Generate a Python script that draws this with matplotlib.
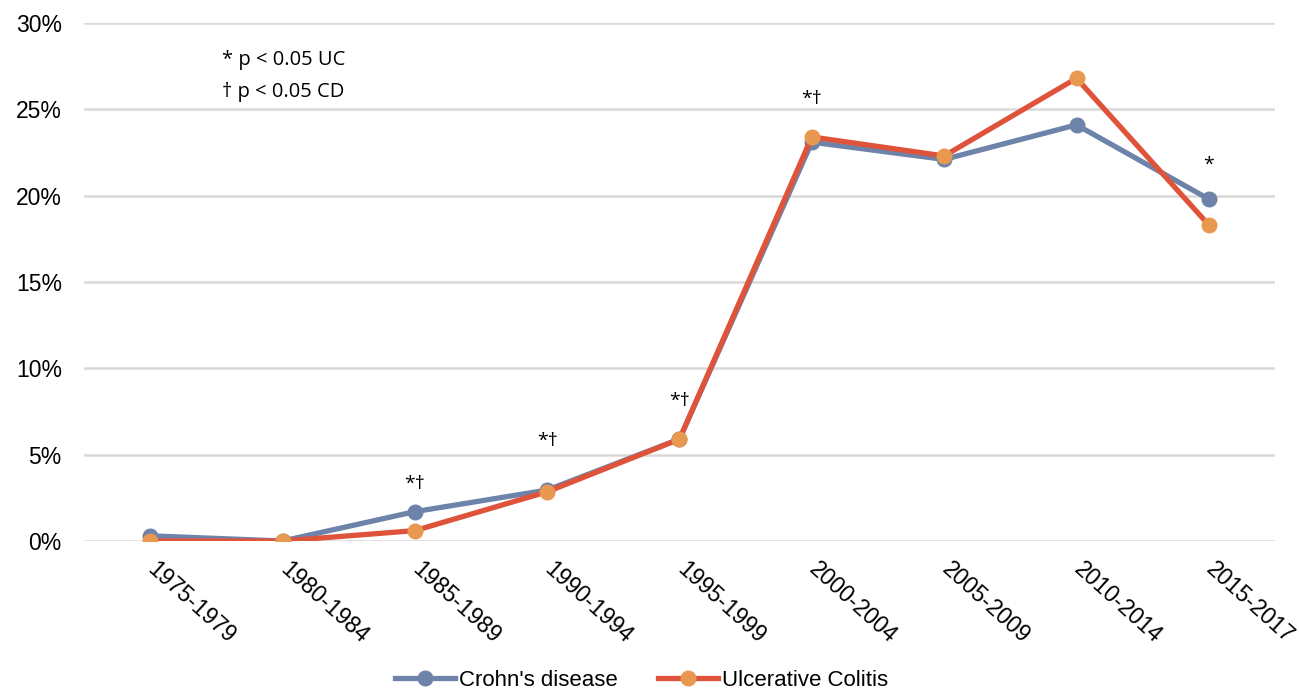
import numpy as np
import matplotlib.pyplot as plt
from matplotlib.ticker import PercentFormatter

periods = ["1975-1979", "1980-1984", "1985-1989", "1990-1994", "1995-1999",
           "2000-2004", "2005-2009", "2010-2014", "2015-2017"]
crohns = [0.3, 0.0, 1.7, 2.95, 5.9, 23.1, 22.1, 24.1, 19.8]
colitis = [0.0, 0.0, 0.6, 2.85, 5.9, 23.4, 22.3, 26.8, 18.3]
# significance markers above selected periods
sig_labels = ["", "", "*\u2020", "*\u2020", "*\u2020", "*\u2020", "", "", "*"]
sig_heights = [0, 0, 3.3, 5.8, 8.1, 25.6, 0, 0, 21.8]

plt.rcParams['font.family'] = ['Liberation Sans', 'DejaVu Sans']

fig = plt.figure(figsize=(12.99, 6.89), dpi=100)
ax = fig.add_axes([84 / 1299, 148 / 689, (1275 - 84) / 1299, (541 - 23) / 689])

x = np.arange(len(periods))
cd_col = '#6E83A9'
uc_line = '#E0533B'
uc_mark = '#E9994F'

ax.plot(x, crohns, color=cd_col, lw=3.8, marker='o', ms=10.5,
        mfc=cd_col, mec=cd_col, label="Crohn's disease", zorder=3)
ax.plot(x, colitis, color=uc_line, lw=3.8, marker='o', ms=10.5,
        mfc=uc_mark, mec=uc_mark, label="Ulcerative Colitis", zorder=4)

for xi, lab, h in zip(x, sig_labels, sig_heights):
    if lab:
        ax.text(xi, h, lab, ha='center', va='center', fontsize=14,
                family=['Open Sans', 'DejaVu Sans'])

ax.text(0.116, 0.928, "* p < 0.05 UC", transform=ax.transAxes, fontsize=14.5,
        family=['Open Sans', 'DejaVu Sans'], va='center')
ax.text(0.116, 0.866, "\u2020 p < 0.05 CD", transform=ax.transAxes, fontsize=14.5,
        family=['Open Sans', 'DejaVu Sans'], va='center')

ax.set_xlim(-0.5, len(periods) - 0.5)
ax.set_ylim(0, 30)
ax.set_yticks(np.arange(0, 31, 5))
ax.yaxis.set_major_formatter(PercentFormatter(decimals=0))
ax.set_xticks(x)
ax.set_xticklabels([])
# rotated category labels, drawn as text so they can sit just right of the tick
for xi, lab in zip(x, periods):
    ax.annotate(lab, xy=(xi, 0), xycoords=('data', 'axes fraction'),
                xytext=(6, -12), textcoords='offset points',
                rotation=-42, ha='left', va='top', rotation_mode='anchor',
                fontsize=16.5)
ax.tick_params(axis='y', labelsize=16.5, length=0, pad=16)
ax.tick_params(axis='x', length=0)
ax.grid(axis='y', color='#D9D9D9', lw=1.8)
ax.set_axisbelow(True)
for s in ax.spines.values():
    s.set_visible(False)

fig.legend(loc='center', bbox_to_anchor=(0.494, 9 / 689), ncol=2,
           frameon=False, fontsize=16, handlelength=2.7, columnspacing=1.8,
           handletextpad=0.2)

fig.savefig('out.png', dpi=100)
